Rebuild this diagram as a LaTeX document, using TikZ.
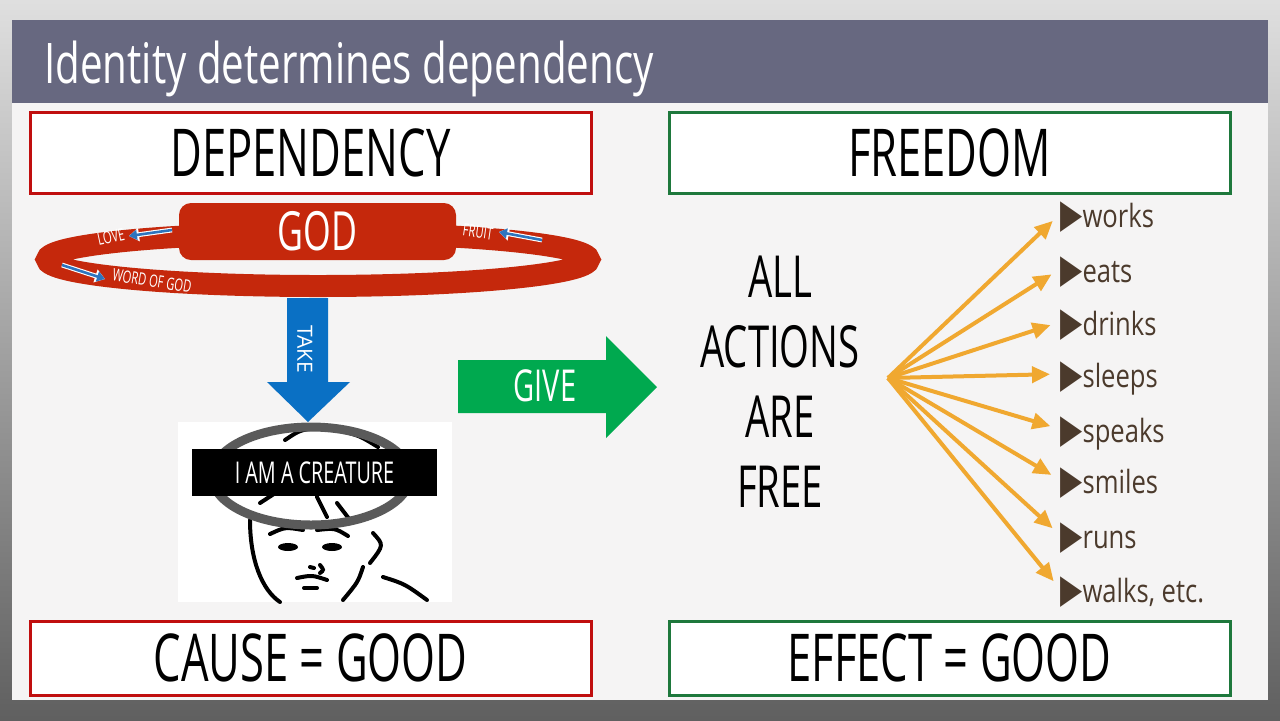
\documentclass[tikz,border=0pt]{standalone}
\usepackage{fontspec}
\setmainfont{Open Sans}[FakeStretch=0.66]
\newfontfamily\titlefont{Open Sans}[FakeStretch=0.72]
\newfontfamily\itemfont{Open Sans}[FakeStretch=0.8]
\newfontfamily\widefont{Open Sans}
\newfontfamily\symfont{DejaVu Sans}[FakeStretch=0.72]
\usetikzlibrary{arrows.meta, positioning}
\definecolor{titlegray}{RGB}{103,104,128}
\definecolor{slidebg}{RGB}{245,244,244}
\definecolor{depred}{RGB}{192,14,14}
\definecolor{freegreen}{RGB}{30,120,60}
\definecolor{godred}{RGB}{197,40,12}
\definecolor{takeblue}{RGB}{10,112,196}
\definecolor{ringblue}{RGB}{46,117,190}
\definecolor{givegreen}{RGB}{0,169,79}
\definecolor{fanorange}{RGB}{240,168,48}
\definecolor{itembrown}{RGB}{75,58,44}
\definecolor{halogray}{RGB}{90,90,90}

\begin{document}
\begin{tikzpicture}[x=0.5pt, y=-0.5pt,
    headbox/.style={draw=#1, line width=1.5pt, fill=white, minimum width=280.5pt, inner sep=0pt, font=\fontsize{33}{36}\selectfont},
    ringlbl/.style={text=white, inner sep=0pt, font=\fontsize{8.5}{9}\selectfont},
    ringarr/.style={ringblue, line width=1.3pt, -{Triangle[length=4pt,width=5pt]}, preaction={draw=white, line width=2.4pt, -{Triangle[length=5pt,width=6.5pt]}}},
    fanarr/.style={fanorange, line width=2pt, -{Triangle[length=9pt,width=8pt]}, shorten >=5pt},
    item/.style={anchor=west, inner sep=0pt, text height=13pt, text depth=0pt, text=itembrown, font=\itemfont\fontsize{16}{20}\selectfont},
    face/.style={black, line width=2pt, line cap=round}]
    \useasboundingbox (0,0) rectangle (1280,720);
    % Backdrop and slide
    \shade[top color=gray!25, bottom color=gray!75!black] (0,0) rectangle (1280,720);
    \fill[slidebg] (12,20) rectangle (1268,700);
    \fill[titlegray] (12,20) rectangle (1268,103);
    \node[anchor=base west, text=white, inner sep=0pt, font=\titlefont\fontsize{28}{30}\selectfont] (title) at (44,83) {Identity determines dependency};

    % Heading boxes
    \node[headbox=depred, minimum height=40.5pt] (dep) at (310.5,152.5) {DEPENDENCY};
    \node[headbox=freegreen, minimum height=40.5pt] (free) at (949.5,152.5) {FREEDOM};
    \node[headbox=depred, minimum height=37pt] (cause) at (310.5,658) {CAUSE = GOOD};
    \node[headbox=freegreen, minimum height=37pt] (effect) at (949.5,658) {EFFECT = GOOD};

    % God and the ring
    \draw[godred, line width=11pt] (318,259.5) ellipse [x radius=271, y radius=26.5];
    \node[fill=godred, rounded corners=6pt, minimum width=138.5pt, minimum height=28.5pt, inner sep=0pt, text=white, font=\fontsize{27}{30}\selectfont] (god) at (317.5,231.5) {GOD};
    \node[ringlbl, rotate=12] (love) at (111,237) {LOVE};
    \node[ringlbl, rotate=-8] (fruit) at (478,232) {FRUIT};
    \node[ringlbl, rotate=-9] (word) at (152,281) {WORD OF GOD};
    \coordinate (lovea) at (172,230);
    \coordinate (loveb) at (129,236);
    \coordinate (fruita) at (542,240);
    \coordinate (fruitb) at (499,232);
    \coordinate (worda) at (62,265);
    \coordinate (wordb) at (105,279);
    \draw[ringarr] (lovea) -- (loveb);
    \draw[ringarr] (fruita) -- (fruitb);
    \draw[ringarr] (worda) -- (wordb);

    % Take arrow
    \fill[takeblue] (287,298) -- (328,298) -- (328,382) -- (350,382) -- (308,422) -- (267,382) -- (287,382) -- cycle;
    \node[rotate=-90, text=white, inner sep=0pt, font=\widefont\fontsize{10.5}{12}\selectfont] (take) at (305,349) {TAKE};

    % Creature picture
    \fill[white] (178,422) rectangle (452,602);
    \draw[face] (232,448) .. controls (245,438) .. (262,432);
    \draw[face] (285,440) .. controls (300,430) .. (318,428);
    \draw[face] (345,432) .. controls (360,436) .. (378,447);
    \draw[face] (260,503) -- (280,490);
    \draw[face] (317,497) -- (327,517);
    \draw[face] (337,503) -- (350,520);
    \draw[face] (250,520) .. controls (250,560) and (262,590) .. (280,602);
    \draw[face] (373,533) .. controls (384,545) .. (370,563);
    \draw[face] (363,567) .. controls (358,582) .. (343,600);
    \draw[face] (270,534) .. controls (285,527) .. (303,530);
    \draw[face] (317,530) .. controls (335,528) .. (348,536);
    \fill (288,547) ellipse [x radius=10, y radius=4];
    \fill (332,547) ellipse [x radius=10, y radius=4];
    \draw[face] (310,567) -- (314,568);
    \draw[face] (320,565) .. controls (324,570) .. (320,573);
    \draw[face] (297,578) .. controls (312,575) .. (327,580);
    \draw[face] (304,588) -- (317,588);
    \draw[face] (383,577) .. controls (405,584) .. (427,600);
    \draw[halogray, line width=4.5pt] (311,476) ellipse [x radius=99, y radius=49];
    \node[fill=black, text=white, minimum width=122.5pt, minimum height=23.5pt, inner sep=0pt, font=\fontsize{15}{16}\selectfont] (creature) at (314.5,472.5) {I AM A CREATURE};

    % Give arrow
    \fill[givegreen] (458,360) -- (606,360) -- (606,336) -- (657,387) -- (606,438) -- (606,413) -- (458,413) -- cycle;
    \node[text=white, inner sep=0pt, font=\fontsize{22}{24}\selectfont] (give) at (545,386) {GIVE};

    % All actions
    \node[align=center, inner sep=0pt, font=\fontsize{29}{35}\selectfont] (actions) at (780,382) {ALL\\ACTIONS\\ARE\\FREE};

    % Fan of actions
    \coordinate (fan) at (888,378);
    \foreach \w/\y [count=\i] in {works/227, eats/282, drinks/335, sleeps/387, speaks/442, smiles/493, runs/548, {walks, etc.}/602} {
        \node[item] (act\i) at (1060,\y-13) {{\symfont\fontsize{20}{20}\selectfont ▶}\w};
        \draw[fanarr] (fan) -- (act\i.west);
    }
\end{tikzpicture}
\end{document}
